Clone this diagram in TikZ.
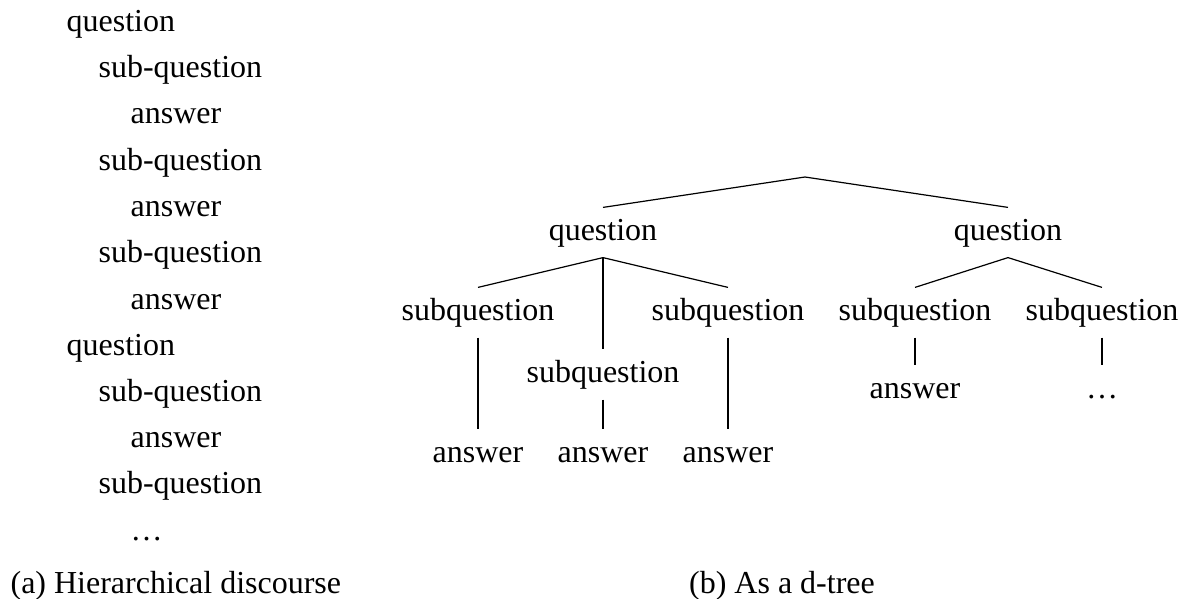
\documentclass[tikz,border=0pt]{standalone}
\usepackage{fontspec}
\setmainfont{Liberation Serif}
\usetikzlibrary{positioning}

\begin{document}
\begin{tikzpicture}[x=1pt, y=-1pt, line width=1.2pt,
    every node/.style={font=\fontsize{32}{38}\selectfont, inner sep=0pt},
    item/.style={anchor=base west},
    tnode/.style={anchor=base, text height=32pt, text depth=17pt}]
  \useasboundingbox (0,0) rectangle (1188,599);
  % (a) hierarchical discourse
  \node[item] (l1) at (66,32) {question};
  \node[item] (l2) at (98,78) {sub-question};
  \node[item] (l3) at (130,124) {answer};
  \node[item] (l4) at (98,170) {sub-question};
  \node[item] (l5) at (130,216) {answer};
  \node[item] (l6) at (98,262) {sub-question};
  \node[item] (l7) at (130,309) {answer};
  \node[item] (l8) at (66,355) {question};
  \node[item] (l9) at (98,401) {sub-question};
  \node[item] (l10) at (130,447) {answer};
  \node[item] (l11) at (98,493) {sub-question};
  \node[item] (l12) at (130,540) {\dots};
  \node[item] (capa) at (10,593) {(a) Hierarchical discourse};

  % (b) the d-tree
  \coordinate (root) at (805,177);
  \node[tnode] (q1) at (603,240) {question};
  \node[tnode] (q2) at (1008,240) {question};
  \node[tnode] (s1) at (478,320) {subquestion};
  \node[tnode] (s2) at (603,382) {subquestion};
  \node[tnode] (s3) at (728,320) {subquestion};
  \node[tnode] (s4) at (915,320) {subquestion};
  \node[tnode] (s5) at (1102,320) {subquestion};
  \node[tnode] (a1) at (478,462) {answer};
  \node[tnode] (a2) at (603,462) {answer};
  \node[tnode] (a3) at (728,462) {answer};
  \node[tnode] (a4) at (915,398) {answer};
  \node[tnode] (a5) at (1102,398) {\dots};
  \node[anchor=base] (capb) at (782,593) {(b) As a d-tree};

  \draw (root) -- (q1.north);
  \draw (root) -- (q2.north);
  \draw (q1.south) -- (s1.north);
  \draw (q1.south) -- (s2.north);
  \draw (q1.south) -- (s3.north);
  \draw (q2.south) -- (s4.north);
  \draw (q2.south) -- (s5.north);
  \draw (s1.south) -- (a1.north);
  \draw (s2.south) -- (a2.north);
  \draw (s3.south) -- (a3.north);
  \draw (s4.south) -- (a4.north);
  \draw (s5.south) -- (a5.north);
\end{tikzpicture}
\end{document}
